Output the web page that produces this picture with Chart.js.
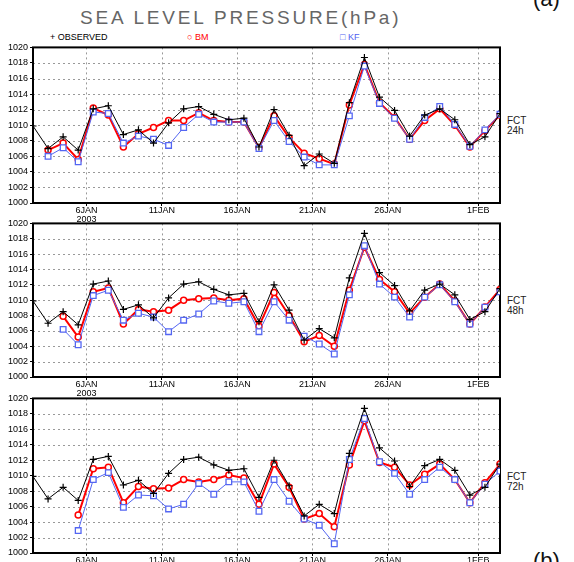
<!DOCTYPE html>
<html>
<head>
<meta charset="utf-8">
<script src="https://cdn.jsdelivr.net/npm/chart.js@4/dist/chart.umd.min.js"></script>
<style>
  body { margin: 0; width: 574px; height: 562px; overflow: hidden; background: #fff; position: relative; font-family: "Liberation Sans", Arial, sans-serif; }
  canvas { position: absolute; left: 0; }
  .txt { position: absolute; white-space: nowrap; line-height: 1; }
  #title { left: 80px; top: 8px; font-size: 19px; letter-spacing: 2.8px; color: #666; }
  .leg { top: 33px; font-size: 9px; }
  .fct { left: 507px; font-size: 10px; color: #222; line-height: 10px; }
  .tag { left: 533px; font-size: 22px; color: #111; }
</style>
</head>
<body>
<div class="txt" id="title">SEA LEVEL PRESSURE(hPa)</div>
<div class="txt tag" style="top:-12px">(a)</div>
<div class="txt tag" style="top:550px">(b)</div>
<div class="txt leg" style="left:50px;color:#000">+ OBSERVED</div>
<div class="txt leg" style="left:187px;color:#f00">&#9675; BM</div>
<div class="txt leg" style="left:340px;color:#5060f0">&#9633; KF</div>
<div class="txt fct" style="top:116px">FCT<br>24h</div>
<div class="txt fct" style="top:296px">FCT<br>48h</div>
<div class="txt fct" style="top:472px">FCT<br>72h</div>

<canvas id="c24" width="510" height="193" style="top:40px"></canvas>
<canvas id="c48" width="510" height="191" style="top:216px"></canvas>
<canvas id="c72" width="510" height="192" style="top:391px"></canvas>

<script>
// days of Jan 2003 (33 = 1 Feb 2003); values plotted at the observation time offset
const days = [2, 3, 4, 5, 6, 7, 8, 9, 10, 11, 12, 13, 14, 15, 16, 17, 18, 19, 20, 21, 22, 23, 24, 25, 26, 27, 28, 29, 30, 31, 32, 33];
const obsOffset = 0.45;

const dayTicks = [6, 11, 16, 21, 26, 32];
const dayLabels = [["6JAN", "2003"], "11JAN", "16JAN", "21JAN", "26JAN", "1FEB"];

const observed = [1009.9, 1007.0, 1008.5, 1006.8, 1012.1, 1012.5, 1008.8, 1009.4, 1007.7, 1010.3, 1012.1, 1012.4, 1011.4, 1010.7, 1010.9, 1007.2,
  1012.0, 1008.7, 1004.8, 1006.3, 1005.1, 1012.9, 1018.7, 1013.6, 1011.9, 1008.6, 1011.3, 1012.1, 1010.7, 1007.5, 1008.5, 1011.5];

// 24h forecasts start on day 3
const bm24 = [1006.8, 1007.7, 1005.6, 1012.2, 1011.3, 1007.2, 1008.9, 1009.7, 1010.6, 1010.6, 1011.6, 1010.6, 1010.4, 1010.4, 1007.1, 1011.2,
  1008.4, 1006.4, 1005.7, 1005.0, 1012.6, 1017.8, 1012.9, 1011.0, 1008.2, 1010.6, 1012.1, 1010.0, 1007.2, 1009.3, 1011.3];
const kf24 = [1006.0, 1007.1, 1005.3, 1011.7, 1011.5, 1007.7, 1008.6, 1008.2, 1007.4, 1009.7, 1011.4, 1010.4, 1010.4, 1010.4, 1007.0, 1010.6,
  1007.9, 1005.9, 1004.9, 1004.9, 1011.2, 1017.6, 1012.8, 1010.9, 1008.2, 1011.0, 1012.4, 1010.1, 1007.3, 1009.4, 1011.4];

// 48h forecasts start on day 4
const bm48 = [1007.9, 1005.2, 1011.1, 1011.6, 1006.9, 1008.8, 1008.5, 1008.7, 1010.0, 1010.2, 1010.3, 1010.0, 1010.2, 1006.6, 1011.0,
  1008.0, 1004.6, 1005.4, 1004.0, 1011.3, 1016.9, 1012.7, 1011.1, 1008.3, 1010.4, 1012.1, 1009.9, 1006.9, 1009.1, 1011.4];
const kf48 = [1006.2, 1004.2, 1010.6, 1011.3, 1007.4, 1008.3, 1007.8, 1005.9, 1007.4, 1008.2, 1009.9, 1009.6, 1009.8, 1005.9, 1009.8,
  1007.4, 1005.3, 1004.3, 1003.0, 1010.7, 1017.1, 1012.1, 1010.4, 1007.8, 1010.4, 1012.0, 1009.8, 1006.9, 1009.1, 1011.1];

// 72h forecasts start on day 5
const bm72 = [1004.9, 1010.9, 1011.1, 1006.5, 1008.6, 1008.3, 1008.4, 1009.5, 1009.2, 1009.5, 1010.1, 1009.7, 1006.3, 1011.5,
  1008.5, 1004.4, 1005.1, 1003.4, 1011.4, 1017.1, 1011.7, 1011.1, 1008.8, 1010.2, 1011.5, 1009.5, 1006.5, 1009.1, 1011.5];
const kf72 = [1002.9, 1009.5, 1010.4, 1005.9, 1007.5, 1007.4, 1005.7, 1006.3, 1009.0, 1007.6, 1009.2, 1009.2, 1005.4, 1009.5,
  1006.7, 1004.4, 1003.6, 1001.2, 1012.1, 1017.4, 1011.8, 1010.3, 1007.6, 1009.5, 1011.1, 1009.5, 1006.5, 1008.9, 1010.6];

const RED = "#ff0000";
const BLUE = "#5466f2";

function toPoints(values) {
  const start = days.length - values.length;
  return values.map((v, i) => ({ x: days[start + i] + obsOffset, y: v }));
}

// dotted grid and black box round the plot area
const frame = {
  id: "frame",
  beforeDatasetsDraw(chart) {
    const a = chart.chartArea, ctx = chart.ctx;
    const xs = chart.scales.x, ys = chart.scales.y;
    ctx.save();
    ctx.strokeStyle = "#999";
    ctx.lineWidth = 1;
    ctx.setLineDash([2, 3]);
    ctx.beginPath();
    xs.ticks.forEach(t => {
      const px = Math.round(xs.getPixelForValue(t.value)) + 0.5;
      ctx.moveTo(px, a.top);
      ctx.lineTo(px, a.bottom);
    });
    ys.ticks.forEach(t => {
      const py = Math.round(ys.getPixelForValue(t.value)) + 0.5;
      ctx.moveTo(a.left, py);
      ctx.lineTo(a.right, py);
    });
    ctx.stroke();
    ctx.setLineDash([]);
    ctx.strokeStyle = "#000";
    ctx.lineWidth = 2;
    ctx.strokeRect(a.left, a.top, a.right - a.left, a.bottom - a.top);
    ctx.restore();
  }
};

function makePanel(id, bm, kf) {
  const ctx = document.getElementById(id).getContext("2d");
  return new Chart(ctx, {
    type: "line",
    data: {
      datasets: [
        {
          label: "OBSERVED",
          data: toPoints(observed),
          borderColor: "#000",
          borderWidth: 1,
          pointStyle: "cross",
          pointRadius: 3.5,
          pointBorderColor: "#000",
          pointBorderWidth: 1.2,
          tension: 0,
          order: 0
        },
        {
          label: "KF",
          data: toPoints(kf),
          borderColor: BLUE,
          borderWidth: 1,
          pointStyle: "rect",
          pointRadius: 4,
          pointBackgroundColor: "#fff",
          pointBorderColor: BLUE,
          pointBorderWidth: 1.3,
          tension: 0,
          order: 1
        },
        {
          label: "BM",
          data: toPoints(bm),
          borderColor: RED,
          borderWidth: 2,
          pointStyle: "circle",
          pointRadius: 3,
          pointBackgroundColor: "#fff",
          pointBorderColor: RED,
          pointBorderWidth: 1.5,
          tension: 0,
          order: 2
        }
      ]
    },
    options: {
      responsive: false,
      animation: false,
      events: [],
      layout: { padding: { top: 7, right: 10, left: 0, bottom: 0 } },
      plugins: { legend: { display: false }, tooltip: { enabled: false } },
      scales: {
        x: {
          type: "linear",
          min: 2.45,
          max: 33.45,
          afterFit: s => { s.height = 30; },
          afterBuildTicks: s => { s.ticks = dayTicks.map(v => ({ value: v })); },
          ticks: {
            color: "#000",
            font: { family: "Liberation Sans", size: 9, lineHeight: 1 },
            padding: 0,
            maxRotation: 0,
            autoSkip: false,
            callback: v => dayLabels[dayTicks.indexOf(v)]
          },
          grid: { drawOnChartArea: false, tickColor: "#000", tickLength: 3 },
          border: { display: false }
        },
        y: {
          min: 1000,
          max: 1020,
          afterFit: s => { s.width = 33; },
          ticks: {
            stepSize: 2,
            color: "#000",
            font: { family: "Liberation Sans", size: 9 },
            padding: 2,
            callback: v => String(v)
          },
          grid: { drawOnChartArea: false, tickColor: "#000", tickLength: 3 },
          border: { display: false }
        }
      }
    },
    plugins: [frame]
  });
}

makePanel("c24", bm24, kf24);
makePanel("c48", bm48, kf48);
makePanel("c72", bm72, kf72);
</script>
</body>
</html>
